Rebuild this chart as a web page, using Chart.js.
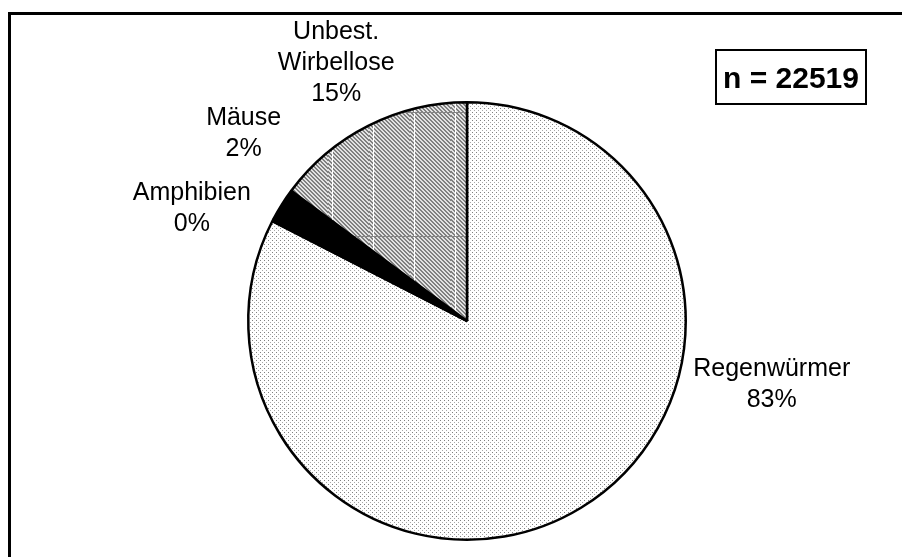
<!DOCTYPE html>
<html>
<head>
<meta charset="utf-8">
<script src="https://cdn.jsdelivr.net/npm/chart.js@4"></script>
<style>
  html, body { margin:0; padding:0; background:#fff; }
  #wrap { position:relative; width:902px; height:557px; }
</style>
</head>
<body>
<div id="wrap"><canvas id="ch-food"></canvas></div>
<script>
// ── data ──────────────────────────────────────────────────────────────
const CATEGORIES = ['Regenwürmer', 'Amphibien', 'Mäuse', ['Unbest.', 'Wirbellose']];
const COUNTS     = [18590, 45, 540, 3344];

// label block centres, in units of the pie radius from its centre
const LABEL_OFFSETS = [[1.393, 0.290], [-1.258, -0.513], [-1.021, -0.856], [-0.598, -1.178]];

const FONT = '"Liberation Sans", Arial, sans-serif';

// ── fill patterns ─────────────────────────────────────────────────────
function makeTile(w, h, paint) {
  const c = document.createElement('canvas');
  c.width = w; c.height = h;
  const g = c.getContext('2d');
  paint(g, w, h);
  return g.createPattern(c, 'repeat');
}

const ctxMain = document.getElementById('ch-food').getContext('2d');

// fine grey dots
const dots = makeTile(4, 4, (g) => {
  g.fillStyle = '#fff'; g.fillRect(0, 0, 4, 4);
  g.fillStyle = '#808080';
  g.fillRect(0, 0, 1, 1);
  g.fillStyle = '#a8a8a8';
  g.fillRect(2, 2, 1, 1);
});

// dense diagonal hatch with faint grid lines
const hatch = makeTile(41, 124, (g, w, h) => {
  const img = g.createImageData(w, h);
  for (let y = 0; y < h; y++) for (let x = 0; x < w; x++) {
    const v = ((x - y + 400) % 4) < 2 ? 128 : 226;
    const i = (y * w + x) * 4;
    img.data[i] = img.data[i+1] = img.data[i+2] = v; img.data[i+3] = 255;
  }
  g.putImageData(img, 0, 0);
  g.fillStyle = '#fff';    g.fillRect(4, 0, 1, h);
  g.fillStyle = '#858585'; g.fillRect(0, 112, w, 1);
});

const FILLS = [dots, '#000', '#000', hatch];

// ── plugins ───────────────────────────────────────────────────────────
const framePlugin = {
  id: 'frame',
  beforeDraw(chart) {
    const c = chart.ctx;
    c.save();
    c.fillStyle = '#000';
    c.fillRect(8, 12, 3, chart.height - 12);
    c.fillRect(8, 12, chart.width - 8, 3);
    c.restore();
  }
};

const sliceLabels = {
  id: 'sliceLabels',
  afterDatasetsDraw(chart, args, opts) {
    const c = chart.ctx;
    const meta = chart.getDatasetMeta(0);
    const data = chart.data.datasets[0].data;
    const total = data.reduce((a, b) => a + b, 0);
    c.save();
    c.font = opts.size + 'px ' + FONT;
    c.fillStyle = '#000';
    c.textAlign = 'center';
    c.textBaseline = 'middle';
    meta.data.forEach((arc, i) => {
      const name = chart.data.labels[i];
      const lines = (Array.isArray(name) ? name : [name]).concat(Math.round(data[i] / total * 100) + '%');
      const off = opts.offsets[i];
      const cx = arc.x + off[0] * arc.outerRadius;
      const cy = arc.y + off[1] * arc.outerRadius;
      const y0 = cy - (lines.length - 1) * opts.lineHeight / 2;
      lines.forEach((t, k) => c.fillText(t, cx, y0 + k * opts.lineHeight));
    });
    c.restore();
  }
};

const totalBox = {
  id: 'totalBox',
  afterDraw(chart, args, opts) {
    const c = chart.ctx;
    const total = chart.data.datasets[0].data.reduce((a, b) => a + b, 0);
    c.save();
    c.lineWidth = 2;
    c.strokeStyle = '#000';
    c.strokeRect(opts.x, opts.y, opts.w, opts.h);
    c.font = 'bold ' + opts.size + 'px ' + FONT;
    c.fillStyle = '#000';
    c.textAlign = 'center';
    c.textBaseline = 'alphabetic';
    c.fillText('n = ' + total, opts.x + opts.w / 2, opts.y + opts.h / 2 + opts.size * 0.36);
    c.restore();
  }
};

// ── chart ─────────────────────────────────────────────────────────────
new Chart(ctxMain, {
  type: 'pie',
  data: {
    labels: CATEGORIES,
    datasets: [{
      data: COUNTS,
      backgroundColor: FILLS,
      borderColor: '#000',
      borderWidth: 2.5,
      hoverOffset: 0,
      offset: 0,
    }]
  },
  options: {
    responsive: true, maintainAspectRatio: false,
    animation: false,
    events: [],
    layout: { padding: { left: 247, top: 101, right: 215, bottom: 16 } },
    plugins: {
      legend: { display: false },
      tooltip: { enabled: false },
      sliceLabels: { offsets: LABEL_OFFSETS, size: 25, lineHeight: 31 },
      totalBox: { x: 716, y: 50, w: 150, h: 54, size: 30 },
    }
  },
  plugins: [framePlugin, sliceLabels, totalBox]
});
</script>
</body>
</html>
